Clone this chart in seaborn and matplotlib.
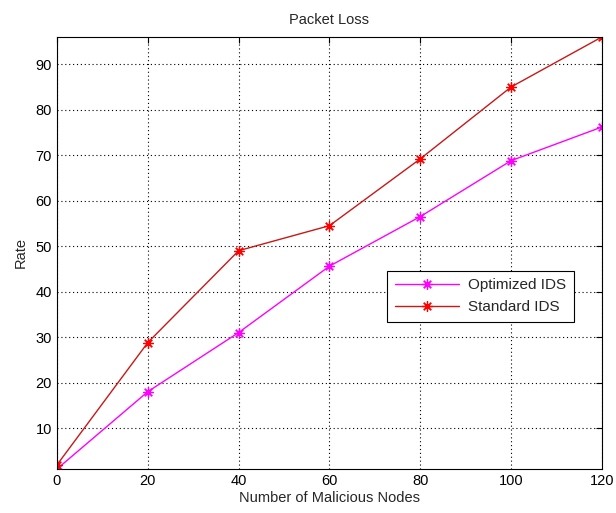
import pandas as pd
import matplotlib
matplotlib.use("Agg")
import matplotlib.pyplot as plt
import seaborn as sns

nodes = [0, 20, 40, 60, 80, 100, 120]
optimized_ids = [1.0, 18.0, 31.0, 45.6, 56.5, 68.8, 76.2]
standard_ids = [1.9, 28.8, 49.0, 54.5, 69.2, 85.0, 96.0]
series_names = ["Optimized IDS", "Standard IDS"]
x_ticks = [0, 20, 40, 60, 80, 100, 120]
y_ticks = [10, 20, 30, 40, 50, 60, 70, 80, 90]


def build_frame():
    opt = pd.DataFrame({"nodes": nodes, "rate": optimized_ids, "series": series_names[0]})
    std = pd.DataFrame({"nodes": nodes, "rate": standard_ids, "series": series_names[1]})
    return pd.concat([opt, std], ignore_index=True)


def main():
    sns.set_style("white")
    plt.rcParams['font.family'] = ['Liberation Sans', 'DejaVu Sans']
    plt.rcParams['font.size'] = 10.5

    df = build_frame()
    fig = plt.figure(figsize=(6.16, 5.13), dpi=100)
    ax = fig.add_axes([0.0925, 0.0858, 0.8847, 0.8422])

    star = (8, 2, 0)
    sns.lineplot(data=df, x="nodes", y="rate", hue="series",
                 palette={series_names[0]: "#ff00ff", series_names[1]: "#c81818"},
                 marker=star, markersize=7.5, markeredgewidth=0.9,
                 linewidth=1.0, ax=ax)
    for line in ax.get_lines():
        mc = "#ff0000" if line.get_color() == "#c81818" else line.get_color()
        line.set_markeredgecolor(mc)
        line.set_markerfacecolor(mc)

    ax.set_xlim(0, 120)
    ax.set_ylim(1, 96)
    ax.set_xticks(x_ticks)
    ax.set_yticks(y_ticks)
    ax.grid(True, color="black", linestyle=(0, (1, 2.5)), linewidth=0.8)
    ax.tick_params(direction="in", top=True, right=True, length=4, width=0.8,
                   labelsize=10.5, colors="black")
    for side in ax.spines.values():
        side.set_color("black")
        side.set_linewidth(0.8)

    ax.set_title("Packet Loss", fontsize=10.5, pad=9)
    ax.set_xlabel("Number of Malicious Nodes", fontsize=10.5, labelpad=2)
    ax.set_ylabel("Rate", fontsize=10.5, labelpad=6)

    handles, labels = ax.get_legend_handles_labels()
    leg = ax.legend(handles, labels, loc="center", bbox_to_anchor=(0.777, 0.40),
                    fancybox=False, frameon=True, edgecolor="black",
                    fontsize=11, handlelength=4.2, borderpad=0.5,
                    labelspacing=0.5, handletextpad=0.6, borderaxespad=0)
    leg.get_frame().set_linewidth(0.8)
    leg.get_frame().set_alpha(1)

    fig.savefig("out.png", dpi=100, facecolor="white")


if __name__ == '__main__':
    main()
